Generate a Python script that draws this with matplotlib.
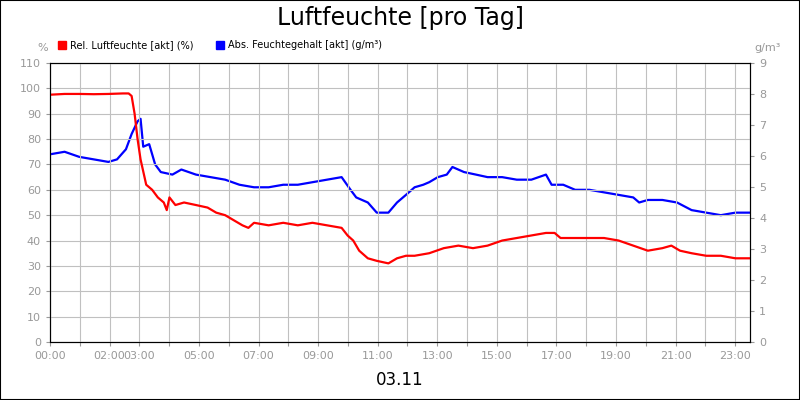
import matplotlib
matplotlib.use("Agg")
import matplotlib.pyplot as plt
import numpy as np
from matplotlib.patches import Rectangle

t_rel = [0,0.49,0.98,1.47,1.96,2.45,2.64,2.74,2.84,2.94,3.04,3.23,3.43,3.62,3.82,3.92,4.01,4.21,4.5,4.9,5.29,5.58,5.88,6.17,6.46,6.66,6.85,7.34,7.83,8.32,8.81,9.3,9.79,9.99,10.18,10.38,10.67,10.97,11.36,11.65,11.95,12.24,12.73,13.22,13.71,14.2,14.69,15.18,15.67,16.16,16.65,16.94,17.14,17.63,18.6,19.09,19.58,20.07,20.56,20.86,21.15,21.54,22.03,22.52,23.01,23.5]
rel = [97.5,97.8,97.8,97.7,97.8,98,98,97,90,80,72,62,60,57,55,52,57,54,55,54,53,51,50,48,46,45,47,46,47,46,47,46,45,42,40,36,33,32,31,33,34,34,35,37,38,37,38,40,41,42,43,43,41,41,41,40,38,36,37,38,36,35,34,34,33,33]
t_abs = [0,0.49,0.98,1.47,1.96,2.25,2.55,2.74,2.94,3.04,3.13,3.33,3.53,3.72,4.11,4.41,4.9,5.39,5.88,6.36,6.85,7.34,7.83,8.32,8.81,9.3,9.79,10.09,10.28,10.67,10.97,11.36,11.65,11.95,12.24,12.53,12.73,13.02,13.32,13.51,13.9,14.3,14.69,15.18,15.67,16.16,16.65,16.84,17.23,17.63,18.11,18.6,19.09,19.58,19.78,20.07,20.56,21.05,21.54,22.03,22.52,23.01,23.5]
abs_pct = [74,75,73,72,71,72,76,82,87,88,77,78,70,67,66,68,66,65,64,62,61,61,62,62,63,64,65,60,57,55,51,51,55,58,61,62,63,65,66,69,67,66,65,65,64,64,66,62,62,60,60,59,58,57,55,56,56,55,52,51,50,51,51]
abs_g = [v*9/110 for v in abs_pct]
hours = list(range(24))
labeled = [0,2,3,5,7,9,11,13,15,17,19,21,23]

gray = "#999999"
fig = plt.figure(figsize=(8,4), dpi=100)
fig.patches.append(Rectangle((0,0),1,1,transform=fig.transFigure,fill=False,edgecolor="black",lw=1.5))
ax = fig.add_axes([0.0625,0.145,0.875,0.6975])
ax.plot(t_rel, rel, color="#ff0000", lw=1.6)
ax.set_xlim(0,23.5); ax.set_ylim(0,110)
ax.set_yticks(range(0,111,10))
ax.set_xticks(hours)
ax.set_xticklabels(["%02d:00"%h if h in labeled else "" for h in hours])
ax.grid(True, color="#c0c0c0", lw=0.8)
ax.tick_params(colors=gray, labelsize=8, length=3)
for s in ax.spines.values(): s.set_color("black")
ax2 = ax.twinx()
ax2.plot(t_abs, abs_g, color="#0000ff", lw=1.6)
ax2.set_ylim(0,9); ax2.set_yticks(range(0,10))
ax2.tick_params(colors=gray, labelsize=8, length=3)
ax.set_zorder(ax2.get_zorder()+1); ax.patch.set_visible(False)
fig.text(0.5,0.955,"Luftfeuchte [pro Tag]",ha="center",va="center",fontsize=17)
fig.text(0.053,0.88,"%",ha="center",va="center",fontsize=8,color=gray)
fig.text(0.96,0.88,"g/m³",ha="center",va="center",fontsize=8,color=gray)
fig.patches.append(Rectangle((0.072,0.878),0.01,0.02,transform=fig.transFigure,color="#ff0000"))
fig.text(0.087,0.888,"Rel. Luftfeuchte [akt] (%)",va="center",fontsize=7)
fig.patches.append(Rectangle((0.27,0.878),0.01,0.02,transform=fig.transFigure,color="#0000ff"))
fig.text(0.285,0.888,"Abs. Feuchtegehalt [akt] (g/m³)",va="center",fontsize=7)
fig.text(0.5,0.05,"03.11",ha="center",va="center",fontsize=12)
fig.savefig("out.png")
